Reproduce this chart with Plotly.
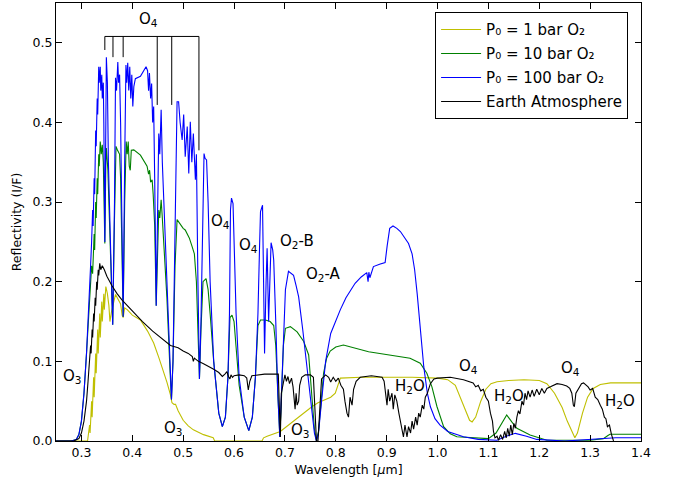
import plotly.graph_objects as go

# ---------------- data ----------------
wl_100 = [0.25, 0.28, 0.29, 0.295, 0.30, 0.305, 0.31, 0.315, 0.318, 0.32, 0.322, 0.323, 0.325, 0.326, 0.328, 0.329,
          0.331, 0.332, 0.334, 0.335, 0.337, 0.338, 0.340, 0.341, 0.343, 0.344, 0.346, 0.348, 0.349, 0.351, 0.353,
          0.357, 0.3615, 0.365, 0.367, 0.369, 0.3715, 0.373, 0.375, 0.377, 0.380, 0.382, 0.385, 0.3875, 0.389, 0.391,
          0.393, 0.395, 0.397, 0.399, 0.401, 0.403, 0.406, 0.416, 0.427, 0.430, 0.432, 0.4337, 0.436, 0.438, 0.440,
          0.442, 0.444, 0.447, 0.450, 0.452, 0.454, 0.4567, 0.459, 0.462, 0.468, 0.474, 0.477, 0.480, 0.484, 0.488,
          0.491, 0.494, 0.498, 0.501, 0.504, 0.508, 0.511, 0.514, 0.517, 0.520, 0.524, 0.526, 0.529, 0.532, 0.535,
          0.539, 0.541, 0.543, 0.546, 0.549, 0.553, 0.560, 0.570, 0.577, 0.583, 0.588, 0.591, 0.593, 0.595, 0.598,
          0.600, 0.604, 0.610, 0.620, 0.629, 0.636, 0.642, 0.647, 0.650, 0.652, 0.656, 0.658, 0.660, 0.663, 0.665,
          0.668, 0.670, 0.6728, 0.676, 0.678, 0.682, 0.686, 0.690, 0.693, 0.697, 0.701, 0.707, 0.713, 0.717, 0.722,
          0.727, 0.735, 0.745, 0.752, 0.758, 0.762, 0.766, 0.772, 0.780, 0.790, 0.800, 0.809, 0.820, 0.838, 0.850,
          0.861, 0.8635, 0.865, 0.867, 0.874, 0.886, 0.897, 0.901, 0.906, 0.9125, 0.920, 0.927, 0.935, 0.943, 0.950,
          0.955, 0.960, 0.966, 0.973, 0.980, 0.986, 0.995, 1.005, 1.02, 1.051, 1.08, 1.117, 1.135, 1.153, 1.175,
          1.195, 1.25, 1.313, 1.35, 1.4]
r_100 = [0, 0, 0.002, 0.008, 0.025, 0.06, 0.11, 0.17, 0.22, 0.25, 0.29, 0.27, 0.33, 0.31, 0.39, 0.37,
         0.43, 0.41, 0.47, 0.45, 0.47, 0.44, 0.46, 0.43, 0.45, 0.40, 0.25, 0.40, 0.482, 0.45, 0.35,
         0.25, 0.146, 0.30, 0.456, 0.44, 0.476, 0.45, 0.46, 0.40, 0.25, 0.156, 0.35, 0.472, 0.45, 0.475,
         0.44, 0.47, 0.43, 0.46, 0.42, 0.445, 0.455, 0.458, 0.470, 0.465, 0.44, 0.462, 0.43, 0.449, 0.40,
         0.42, 0.33, 0.17, 0.30, 0.386, 0.36, 0.416, 0.35, 0.30, 0.20, 0.09, 0.052, 0.10, 0.25, 0.426,
         0.426, 0.40, 0.378, 0.41, 0.357, 0.395, 0.336, 0.401, 0.35, 0.386, 0.328, 0.36, 0.20, 0.078, 0.15,
         0.30, 0.361, 0.355, 0.353, 0.30, 0.20, 0.10, 0.035, 0.018, 0.03, 0.08, 0.16, 0.29, 0.305, 0.298,
         0.25, 0.16, 0.08, 0.03, 0.013, 0.03, 0.08, 0.16, 0.24, 0.288, 0.296, 0.20, 0.11, 0.20, 0.242,
         0.15, 0.20, 0.249, 0.24, 0.227, 0.15, 0.06, 0.005, 0.05, 0.13, 0.19, 0.213, 0.21, 0.208, 0.195,
         0.181, 0.14, 0.08, 0.04, 0.01, 0.0, 0.01, 0.05, 0.10, 0.135, 0.152, 0.165, 0.18, 0.198, 0.206,
         0.2115, 0.20, 0.212, 0.205, 0.219, 0.222, 0.224, 0.245, 0.267, 0.270, 0.267, 0.263, 0.256, 0.248, 0.235,
         0.215, 0.185, 0.14, 0.093, 0.06, 0.043, 0.028, 0.02, 0.012, 0.0054, 0.002, 0.001, 0.006, 0.0096, 0.006,
         0.002, 0.0, 0.003, 0.004, 0.004]

wl_10 = [0.25, 0.28, 0.29, 0.295, 0.30, 0.305, 0.31, 0.315, 0.318, 0.320, 0.322, 0.325, 0.326, 0.328, 0.329, 0.331,
         0.332, 0.334, 0.335, 0.337, 0.339, 0.341, 0.343, 0.346, 0.348, 0.349, 0.352, 0.357, 0.3615, 0.365, 0.368,
         0.371, 0.375, 0.377, 0.380, 0.382, 0.385, 0.388, 0.390, 0.392, 0.394, 0.396, 0.398, 0.403, 0.416, 0.429,
         0.432, 0.434, 0.436, 0.439, 0.441, 0.444, 0.447, 0.450, 0.452, 0.454, 0.4567, 0.459, 0.462, 0.468, 0.474,
         0.477, 0.480, 0.484, 0.488, 0.494, 0.500, 0.504, 0.508, 0.512, 0.5176, 0.522, 0.526, 0.529, 0.532, 0.535,
         0.539, 0.545, 0.549, 0.553, 0.560, 0.570, 0.577, 0.583, 0.588, 0.592, 0.596, 0.600, 0.604, 0.610, 0.620,
         0.629, 0.636, 0.642, 0.647, 0.652, 0.6616, 0.671, 0.678, 0.682, 0.686, 0.690, 0.693, 0.697, 0.701, 0.7107,
         0.724, 0.737, 0.7467, 0.752, 0.758, 0.762, 0.766, 0.770, 0.776, 0.782, 0.789, 0.800, 0.815, 0.8645, 0.946,
         0.966, 0.979, 0.989, 0.999, 1.012, 1.025, 1.038, 1.10, 1.115, 1.123, 1.136, 1.146, 1.156, 1.182, 1.215,
         1.30, 1.326, 1.335, 1.339, 1.4]
r_10 = [0, 0, 0.002, 0.008, 0.025, 0.06, 0.11, 0.16, 0.19, 0.22, 0.21, 0.26, 0.24, 0.30, 0.28, 0.33,
        0.31, 0.36, 0.345, 0.376, 0.36, 0.372, 0.35, 0.248, 0.35, 0.368, 0.34, 0.24, 0.146, 0.28, 0.37,
        0.365, 0.36, 0.33, 0.23, 0.156, 0.30, 0.376, 0.36, 0.376, 0.345, 0.34, 0.365, 0.3656, 0.359, 0.345,
        0.335, 0.34, 0.325, 0.328, 0.31, 0.27, 0.17, 0.26, 0.29, 0.28, 0.303, 0.28, 0.25, 0.18, 0.09,
        0.052, 0.10, 0.22, 0.278, 0.272, 0.267, 0.265, 0.26, 0.255, 0.244, 0.235, 0.20, 0.12, 0.078, 0.14,
        0.20, 0.204, 0.19, 0.16, 0.10, 0.035, 0.018, 0.03, 0.08, 0.155, 0.158, 0.15, 0.12, 0.07, 0.03,
        0.013, 0.03, 0.08, 0.145, 0.152, 0.152, 0.15, 0.145, 0.12, 0.06, 0.005, 0.05, 0.12, 0.1415, 0.1436,
        0.137, 0.125, 0.108, 0.06, 0.015, 0.0, 0.012, 0.04, 0.085, 0.104, 0.113, 0.118, 0.1206, 0.112, 0.104,
        0.0976, 0.085, 0.068, 0.043, 0.018, 0.009, 0.0054, 0.003, 0.01, 0.018, 0.0327, 0.024, 0.016, 0.0075, 0.001,
        0.001, 0.003, 0.007, 0.0084, 0.0084]

wl_1 = [0.25, 0.312, 0.316, 0.317, 0.320, 0.321, 0.324, 0.325, 0.328, 0.329, 0.332, 0.333, 0.336, 0.337, 0.340,
        0.341, 0.344, 0.345, 0.348, 0.351, 0.354, 0.356, 0.359, 0.362, 0.367, 0.372, 0.377, 0.380, 0.382, 0.385,
        0.390, 0.400, 0.416, 0.430, 0.442, 0.452, 0.461, 0.468, 0.475, 0.478, 0.482, 0.485, 0.490, 0.500, 0.510,
        0.520, 0.540, 0.559, 0.562, 0.655, 0.658, 0.665, 0.691, 0.72, 0.753, 0.765, 0.776, 0.790, 0.799, 0.805,
        0.809, 0.85, 0.95, 1.0, 1.02, 1.035, 1.045, 1.055, 1.063, 1.068, 1.075, 1.085, 1.095, 1.105, 1.117,
        1.14, 1.17, 1.2, 1.215, 1.23, 1.245, 1.255, 1.265, 1.27, 1.275, 1.285, 1.295, 1.306, 1.32, 1.34, 1.4]
r_1 = [0, 0, 0.02, 0.01, 0.05, 0.03, 0.08, 0.055, 0.11, 0.085, 0.14, 0.11, 0.16, 0.13, 0.175,
       0.15, 0.185, 0.165, 0.194, 0.185, 0.17, 0.15, 0.162, 0.17, 0.184, 0.178, 0.172, 0.158, 0.155, 0.167,
       0.165, 0.158, 0.152, 0.138, 0.123, 0.105, 0.089, 0.074, 0.058, 0.048, 0.046, 0.046, 0.038, 0.026, 0.019,
       0.014, 0.008, 0.004, 0, 0, 0.004, 0.006, 0.012, 0.027, 0.043, 0.048, 0.051, 0.055, 0.06, 0.072,
       0.079, 0.08, 0.08, 0.079, 0.077, 0.07, 0.055, 0.038, 0.026, 0.024, 0.03, 0.05, 0.065, 0.072, 0.0745,
       0.076, 0.077, 0.076, 0.072, 0.06, 0.042, 0.025, 0.01, 0.004, 0.01, 0.035, 0.055, 0.066, 0.071, 0.073, 0.073]

wl_earth = [0.25, 0.285, 0.295, 0.300, 0.305, 0.310, 0.313, 0.316, 0.318, 0.319, 0.321, 0.322, 0.324, 0.325, 0.327,
            0.328, 0.330, 0.331, 0.333, 0.334, 0.336, 0.338, 0.341, 0.345, 0.350, 0.360, 0.370, 0.380, 0.390, 0.400,
            0.420, 0.440, 0.460, 0.475, 0.480, 0.490, 0.500, 0.510, 0.518, 0.520, 0.522, 0.530, 0.540, 0.550, 0.560,
            0.570, 0.577, 0.582, 0.586, 0.589, 0.592, 0.594, 0.597, 0.600, 0.610, 0.620, 0.625, 0.628, 0.631, 0.635,
            0.650, 0.660, 0.687, 0.689, 0.691, 0.693, 0.696, 0.700, 0.703, 0.706, 0.709, 0.713, 0.716, 0.718, 0.720,
            0.722, 0.724, 0.727, 0.729, 0.733, 0.740, 0.750, 0.756, 0.759, 0.762, 0.765, 0.768, 0.772, 0.78, 0.786,
            0.79, 0.795, 0.80, 0.805, 0.81, 0.815, 0.818, 0.822, 0.825, 0.828, 0.832, 0.835, 0.840, 0.848, 0.87,
            0.891, 0.895, 0.898, 0.9007, 0.903, 0.906, 0.9105, 0.913, 0.916, 0.92, 0.924, 0.928, 0.931, 0.933, 0.936,
            0.94, 0.943, 0.947, 0.95, 0.953, 0.957, 0.96, 0.963, 0.966, 0.97, 0.973, 0.976, 0.98, 0.986, 0.993,
            1.0, 1.025, 1.051, 1.06, 1.07, 1.075, 1.08, 1.085, 1.09, 1.095, 1.1, 1.104, 1.108, 1.11, 1.113,
            1.117, 1.12, 1.124, 1.128, 1.132, 1.135, 1.138, 1.141, 1.144, 1.147, 1.15, 1.153, 1.156, 1.159, 1.162,
            1.166, 1.169, 1.172, 1.175, 1.178, 1.182, 1.186, 1.19, 1.195, 1.2, 1.205, 1.21, 1.215, 1.222, 1.23,
            1.235, 1.245, 1.254, 1.26, 1.264, 1.267, 1.269, 1.272, 1.277, 1.283, 1.287, 1.292, 1.296, 1.3, 1.305,
            1.31, 1.315, 1.32, 1.324, 1.328, 1.331, 1.334, 1.338, 1.342, 1.346]
r_earth = [0, 0, 0.003, 0.01, 0.025, 0.05, 0.075, 0.10, 0.12, 0.11, 0.14, 0.13, 0.16, 0.15, 0.18,
           0.17, 0.20, 0.19, 0.215, 0.208, 0.223, 0.215, 0.22, 0.215, 0.207, 0.195, 0.185, 0.177, 0.17, 0.163,
           0.15, 0.138, 0.128, 0.12, 0.119, 0.117, 0.113, 0.11, 0.106, 0.1, 0.104, 0.1, 0.097, 0.094, 0.09,
           0.086, 0.081, 0.084, 0.087, 0.081, 0.078, 0.083, 0.08, 0.082, 0.083, 0.082, 0.079, 0.064, 0.075, 0.082,
           0.083, 0.084, 0.084, 0.04, 0.005, 0.06, 0.072, 0.083, 0.075, 0.081, 0.072, 0.079, 0.068, 0.055, 0.04,
           0.06, 0.045, 0.05, 0.07, 0.08, 0.083, 0.083, 0.08, 0.04, 0.0, 0.0, 0.04, 0.078, 0.083, 0.08,
           0.074, 0.08, 0.075, 0.079, 0.07, 0.065, 0.05, 0.035, 0.03, 0.055, 0.045, 0.065, 0.075, 0.08, 0.082,
           0.08, 0.075, 0.06, 0.045, 0.065, 0.05, 0.06, 0.04, 0.058, 0.05, 0.035, 0.02, 0.01, 0.005, 0.02,
           0.005, 0.018, 0.01, 0.025, 0.015, 0.03, 0.02, 0.035, 0.03, 0.045, 0.04, 0.055, 0.06, 0.072, 0.078,
           0.079, 0.08, 0.077, 0.075, 0.073, 0.068, 0.07, 0.063, 0.065, 0.055, 0.05, 0.035, 0.025, 0.012, 0.004,
           0.006, 0.001, 0.008, 0.002, 0.012, 0.004, 0.016, 0.006, 0.02, 0.008, 0.022, 0.016, 0.03, 0.038, 0.034,
           0.05, 0.045, 0.06, 0.052, 0.063, 0.055, 0.064, 0.056, 0.065, 0.058, 0.066, 0.06, 0.066, 0.068, 0.07,
           0.072, 0.071, 0.069, 0.066, 0.06, 0.045, 0.043, 0.06, 0.066, 0.072, 0.073, 0.07, 0.068, 0.064, 0.066,
           0.055, 0.052, 0.045, 0.04, 0.03, 0.028, 0.018, 0.02, 0.008, 0.0]

# O4 band bracket (band centres, lower end of each tick, bracket level)
o4_bands = [0.346, 0.362, 0.382, 0.449, 0.4775, 0.531]
o4_tick_low = [0.491, 0.482, 0.482, 0.422, 0.422, 0.365]
o4_bracket_top = 0.508

# band labels
label_text = ["O<sub>4</sub>", "O<sub>4</sub>", "O<sub>4</sub>", "O<sub>2</sub>-B", "O<sub>2</sub>-A",
              "O<sub>3</sub>", "O<sub>3</sub>", "O<sub>3</sub>", "H<sub>2</sub>O", "O<sub>4</sub>",
              "H<sub>2</sub>O", "O<sub>4</sub>", "H<sub>2</sub>O"]
label_x = [0.432, 0.573, 0.629, 0.724, 0.776, 0.282, 0.481, 0.730, 0.946, 1.061, 1.140, 1.261, 1.359]
label_y = [0.529, 0.2755, 0.246, 0.250, 0.2085, 0.081, 0.016, 0.0138, 0.068, 0.093, 0.0557, 0.091, 0.049]

legend_names = ["P\u2080 = 1 bar O\u2082", "P\u2080 = 10 bar O\u2082", "P\u2080 = 100 bar O\u2082",
                "Earth Atmosphere"]

x_ticks = [0.3, 0.4, 0.5, 0.6, 0.7, 0.8, 0.9, 1.0, 1.1, 1.2, 1.3, 1.4]
y_ticks = [0.0, 0.1, 0.2, 0.3, 0.4, 0.5]

# ---------------- figure ----------------
FONT = "DejaVu Sans"

fig = go.Figure()
series = [
    (wl_1, r_1, "#bfbf00"),
    (wl_10, r_10, "#008000"),
    (wl_100, r_100, "#0000ff"),
    (wl_earth, r_earth, "#000000"),
]
for i, ((xs, ys, col), name) in enumerate(zip(series, legend_names)):
    fig.add_trace(go.Scatter(x=xs, y=ys, mode="lines", name=name,
                             line=dict(color=col, width=1.1), legendgroup=f"g{i}"))

# bracket
bx, by = [], []
for b, lo in zip(o4_bands, o4_tick_low):
    bx += [b, b, None]
    by += [lo, o4_bracket_top, None]
bx += [o4_bands[0], o4_bands[-1]]
by += [o4_bracket_top, o4_bracket_top]
fig.add_trace(go.Scatter(x=bx, y=by, mode="lines", line=dict(color="black", width=1),
                         showlegend=False, hoverinfo="skip"))

for t, x, y in zip(label_text, label_x, label_y):
    fig.add_annotation(x=x, y=y, text=t, showarrow=False, xanchor="center", yanchor="middle",
                       font=dict(family=FONT, size=15, color="black"))

axis_common = dict(showline=True, linecolor="black", linewidth=1, mirror="allticks",
                   ticks="inside", ticklen=6, tickcolor="black", showgrid=False, zeroline=False,
                   tickfont=dict(family=FONT, size=12.5, color="black"))
fig.update_xaxes(range=[0.25, 1.4], tickvals=x_ticks, tickformat=".1f",
                 title=dict(text="Wavelength [<i>μ</i>m]", font=dict(family=FONT, size=12.5, color="black"),
                            standoff=6), **axis_common)
fig.update_yaxes(range=[0, 0.55], tickvals=y_ticks, tickformat=".1f",
                 title=dict(text="Reflectivity (I/F)", font=dict(family=FONT, size=12.5, color="black"),
                            standoff=8), **axis_common)

fig.update_layout(
    width=678, height=485,
    margin=dict(l=56, r=37, t=3, b=44),
    paper_bgcolor="white", plot_bgcolor="white",
    font=dict(family=FONT, color="black"),
    legend=dict(x=0.648, y=0.979, xanchor="left", yanchor="top",
                bordercolor="black", borderwidth=1, bgcolor="white",
                font=dict(family=FONT, size=15, color="black"),
                traceorder="grouped", tracegroupgap=1.5, itemwidth=40),
)

fig.write_html("out.html", config={"displayModeBar": False},
               post_script="document.body.style.margin='0px';")
